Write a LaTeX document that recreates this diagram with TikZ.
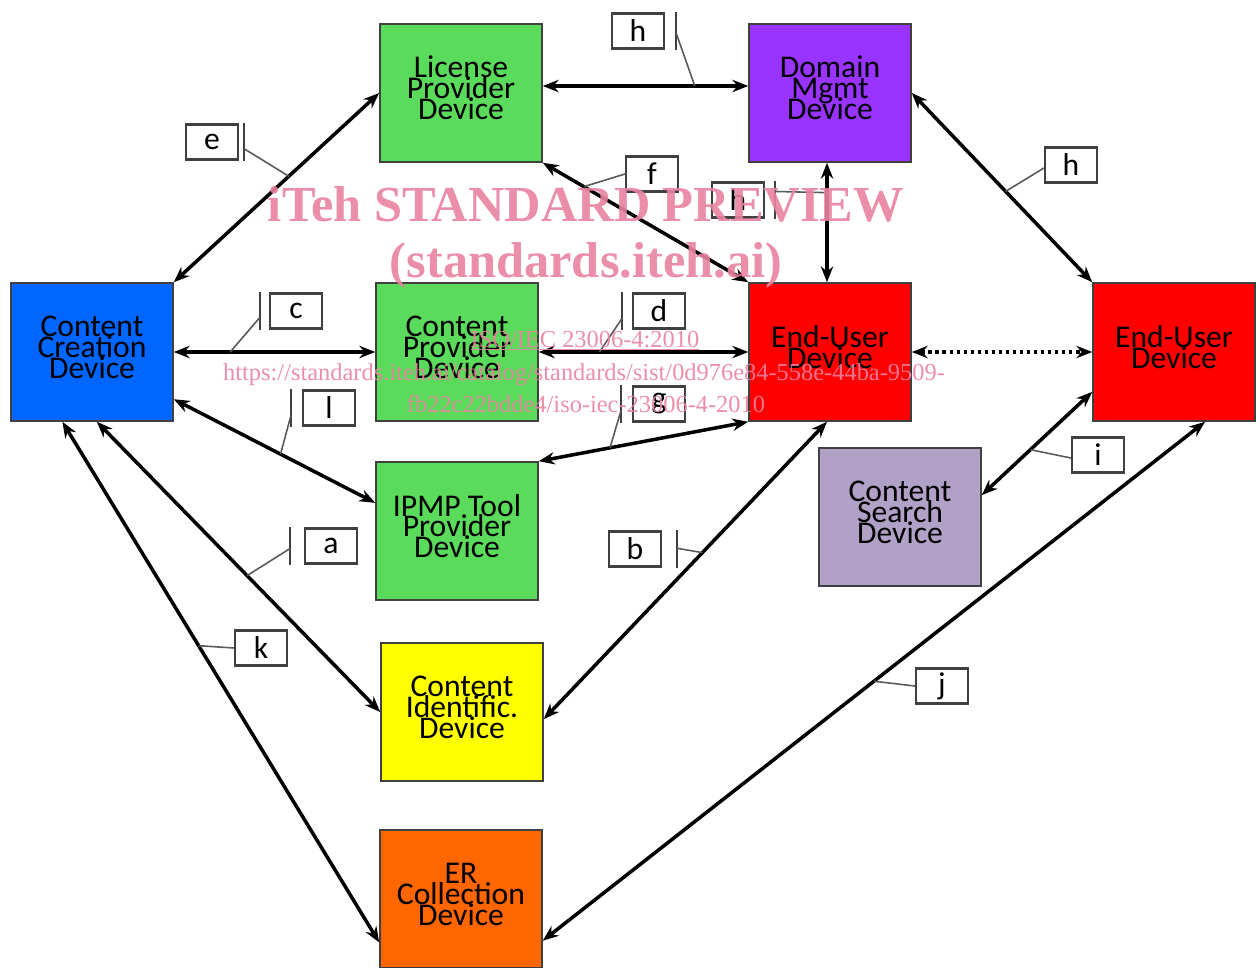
\documentclass[tikz,border=0pt]{standalone}
\usepackage{fontspec}
\setmainfont{Carlito}
\newfontfamily\wmfont{Liberation Serif}
\usetikzlibrary{arrows.meta,shapes}

\definecolor{devgreen}{RGB}{91,219,91}
\definecolor{devpurple}{RGB}{153,51,255}
\definecolor{devblue}{RGB}{0,102,255}
\definecolor{devred}{RGB}{255,0,0}
\definecolor{devlilac}{RGB}{177,161,199}
\definecolor{devyellow}{RGB}{255,255,0}
\definecolor{devorange}{RGB}{255,102,0}
\definecolor{wmpink}{RGB}{233,130,160}

\newcommand{\devfont}{\fontsize{18}{11.9}\selectfont\setlength{\lineskiplimit}{-20pt}}

\tikzset{
  dev/.style={draw=black!75, line width=0.9pt, rectangle, minimum width=3.24cm, minimum height=2.76cm, text depth=0.2cm, align=center, text=black, font=\devfont},
  link/.style={<->, line width=2pt, >={Stealth[length=9pt,width=7pt]}},
  tag/.style={draw=black!75, line width=1.2pt, fill=white, rectangle, minimum width=1.04cm, minimum height=0.7cm, inner sep=0pt, font=\fontsize{18}{18}\selectfont},
  tagbar/.style={draw=black!75, line width=1.2pt},
  callout/.style={draw=black!65, line width=0.9pt},
  wmbig/.style={text=wmpink, opacity=0.9, inner sep=0pt, anchor=base, font=\wmfont\bfseries\fontsize{28.7}{30}\selectfont},
  wmsmall/.style={text=wmpink, opacity=0.9, inner sep=0pt, anchor=base, font=\wmfont\fontsize{13.9}{14}\selectfont}
}

\begin{document}
\begin{tikzpicture}[x=0.02cm, y=-0.02cm]
\useasboundingbox (0,0) rectangle (1260,967);

% devices
\node[dev, fill=devgreen] (lpd) at (461,93) {License\\Provider\\Device};
\node[dev, fill=devpurple] (dmd) at (830,93) {Domain\\Mgmt\\Device};
\node[dev, fill=devblue] (ccd) at (92,352) {Content\\Creation\\Device};
\node[dev, fill=devgreen] (cpd) at (457,352) {Content\\Provider\\Device};
\node[dev, fill=devred] (eud) at (830,352) {End-User\\Device};
\node[dev, fill=devred] (eudb) at (1174,352) {End-User\\Device};
\node[dev, fill=devgreen] (ipmp) at (457,531) {IPMP Tool\\Provider\\Device};
\node[dev, fill=devlilac] (csd) at (900,517) {Content\\Search\\Device};
\node[dev, fill=devyellow] (cid) at (462,712) {Content\\Identific.\\Device};
\node[dev, fill=devorange] (erd) at (461,899) {ER\\Collection\\Device};

% links
\draw[link] ([yshift=0.14cm]lpd.east) -- coordinate[pos=0.74] (ph1) ([yshift=0.14cm]dmd.west);
\draw[link] (ccd.north east) -- coordinate[pos=0.56] (pe) (lpd.west);
\draw[link] (ccd.east) -- coordinate[pos=0.28] (pc) (cpd.west);
\draw[link] (cpd.east) -- coordinate[pos=0.29] (pd) (eud.west);
\draw[link] (lpd.south east) -- coordinate[pos=0.2] (pf) (eud.north west);
\draw[link] ([xshift=-0.06cm]dmd.south) -- coordinate[pos=0.25] (ph2) ([xshift=-0.06cm]eud.north);
\draw[link] (dmd.east) -- coordinate[pos=0.52] (ph3) (eudb.north west);
\draw[link, dotted] (eud.east) -- (eudb.west);
\draw[link] (ccd.-30) -- coordinate[pos=0.53] (pl) (ipmp.161);
\draw[link] (ipmp.north east) -- coordinate[pos=0.34] (pg) (eud.south west);
\draw[link] (ccd.-86) -- coordinate[pos=0.53] (pa) (cid.west);
\draw[link] ([xshift=-0.06cm]eud.south) -- coordinate[pos=0.44] (pb) (cid.-5);
\draw[link] (eudb.206) -- coordinate[pos=0.56] (pi) (csd.15);
\draw[link] (eudb.-66) -- coordinate[pos=0.5] (pj) (erd.-27);
\draw[link] (ccd.-113) -- coordinate[pos=0.43] (pk) (erd.208);

% interface tags
\node[tag] (th1) at (638,31) {h};
\draw[tagbar] ([xshift=0.22cm]th1.north east) -- coordinate[pos=0.55] (bh1) ([xshift=0.22cm]th1.south east);
\draw[callout] (bh1) -- (ph1);

\node[tag] (te) at (212,142) {e};
\draw[tagbar] ([xshift=0.1cm]te.north east) -- coordinate[pos=0.68] (be) ([xshift=0.1cm]te.south east);
\draw[callout] (be) -- (pe);

\node[tag] (tc) at (296,311) {c};
\draw[tagbar] ([xshift=-0.18cm]tc.north west) -- coordinate[pos=0.67] (bc) ([xshift=-0.18cm]tc.south west);
\draw[callout] (bc) -- (pc);

\node[tag] (td) at (659,311) {d};
\draw[tagbar] ([xshift=-0.2cm]td.north west) -- coordinate[pos=0.7] (bd) ([xshift=-0.2cm]td.south west);
\draw[callout] (bd) -- (pd);

\node[tag] (tf) at (652,174) {f};
\draw[callout] (tf.west) -- (pf);

\node[tag] (th2) at (738,200) {h};
\draw[tagbar] ([xshift=0.2cm]th2.north east) -- coordinate[pos=0.27] (bh2) ([xshift=0.2cm]th2.south east);
\draw[callout] (bh2) -- (ph2);

\node[tag] (th3) at (1071,165) {h};
\draw[callout] ([yshift=-0.06cm]th3.west) -- (ph3);

\node[tag] (tl) at (329,408) {l};
\draw[tagbar] ([xshift=-0.22cm]tl.north west) -- coordinate[pos=0.7] (bl) ([xshift=-0.22cm]tl.south west);
\draw[callout] (bl) -- (pl);

\node[tag] (tg) at (659,404) {g};
\draw[tagbar] ([xshift=-0.22cm]tg.north west) -- coordinate[pos=0.68] (bg) ([xshift=-0.22cm]tg.south west);
\draw[callout] (bg) -- (pg);

\node[tag] (ta) at (331,546) {a};
\draw[tagbar] ([xshift=-0.28cm]ta.north west) -- coordinate[pos=0.57] (ba) ([xshift=-0.28cm]ta.south west);
\draw[callout] (ba) -- (pa);

\node[tag] (tb) at (635,549) {b};
\draw[tagbar] ([xshift=0.3cm]tb.north east) -- coordinate[pos=0.48] (bb) ([xshift=0.3cm]tb.south east);
\draw[callout] (bb) -- (pb);

\node[tag] (ti) at (1098,455) {i};
\draw[callout] ([yshift=-0.06cm]ti.west) -- (pi);

\node[tag] (tj) at (942,686) {j};
\draw[callout] (tj.west) -- (pj);

\node[tag] (tk) at (261,648) {k};
\draw[callout] (tk.west) -- (pk);

% watermark
\node[wmbig] (wm1) at (586,221) {iTeh STANDARD PREVIEW};
\node[wmbig] (wm2) at (586,277) {(standards.iteh.ai)};
\node[wmsmall] (wm3) at (585,347) {\underline{ISO/IEC 23006-4:2010}};
\node[wmsmall] (wm4) at (584,380) {https://standards.iteh.ai/catalog/standards/sist/0d976e84-558e-44ba-9509-};
\node[wmsmall] (wm5) at (586,412) {fb22c22bdde4/iso-iec-23006-4-2010};
\end{tikzpicture}
\end{document}
